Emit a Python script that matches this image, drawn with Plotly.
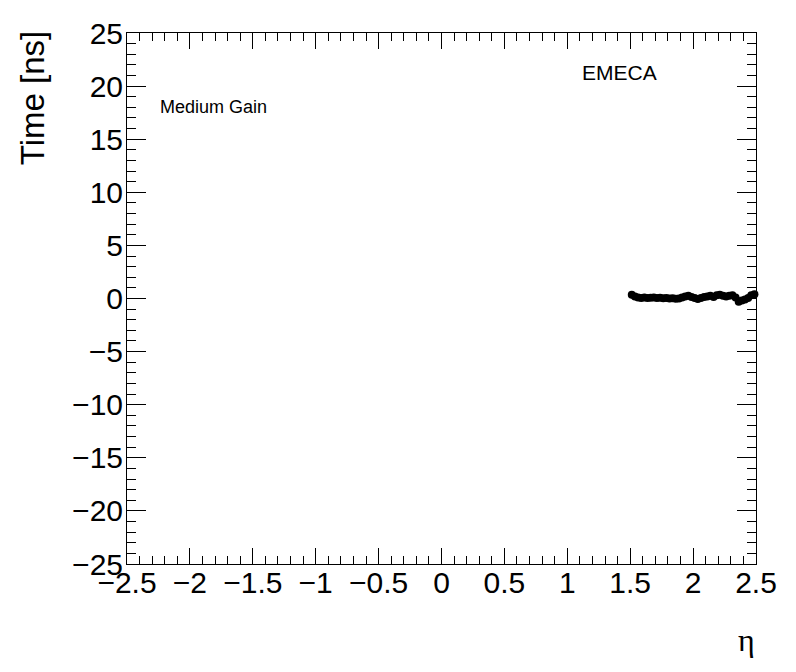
import plotly.graph_objects as go

# Data
eta = [1.5125 + 0.025 * i for i in range(40)]
time_ns = [0.35, 0.20, 0.10, 0.05, 0.10, 0.05, 0.08, 0.10, 0.05, 0.08,
           0.02, 0.05, 0.00, 0.03, -0.02, 0.00, 0.10, 0.20, 0.25, 0.15,
           0.05, -0.05, 0.05, 0.15, 0.20, 0.25, 0.15, 0.30, 0.35, 0.25,
           0.20, 0.25, 0.30, 0.10, -0.30, -0.20, -0.10, 0.05, 0.30, 0.40]

x_range = [-2.5, 2.5]
y_range = [-25, 25]

FONT = "Liberation Sans, Arial, Helvetica, sans-serif"

fig = go.Figure()
fig.add_trace(go.Scatter(
    x=eta, y=time_ns, mode="markers",
    marker=dict(symbol="circle", size=8, color="black"),
    showlegend=False, cliponaxis=False,
))

axis_common = dict(
    showgrid=False, zeroline=False, showline=True, linecolor="black", linewidth=1,
    mirror="ticks", ticks="inside", tickcolor="black", tickwidth=1,
    tickfont=dict(family=FONT, size=30, color="black"),
)

fig.update_xaxes(
    range=x_range, tick0=-2.5, dtick=0.5, ticklen=16,
    minor=dict(ticks="inside", dtick=0.1, ticklen=8, tickcolor="black", tickwidth=1),
    ticklabelstandoff=-8,
    **axis_common,
)
fig.update_yaxes(
    range=y_range, tick0=-25, dtick=5, ticklen=19,
    minor=dict(ticks="inside", dtick=1, ticklen=9, tickcolor="black", tickwidth=1),
    ticklabelstandoff=-3,
    **axis_common,
)

fig.add_annotation(text="Medium Gain", x=-2.255, y=18.0, xref="x", yref="y",
                   xanchor="left", yanchor="middle", showarrow=False,
                   font=dict(family=FONT, size=18, color="black"))
fig.add_annotation(text="EMECA", x=1.098, y=21.3, xref="x", yref="y",
                   xanchor="left", yanchor="middle", showarrow=False,
                   font=dict(family=FONT, size=21, color="black"))
fig.add_annotation(text="Time [ns]", x=-0.149, y=0.8776, xref="paper", yref="paper",
                   xanchor="center", yanchor="middle", textangle=-90, showarrow=False,
                   font=dict(family=FONT, size=33, color="black"))
fig.add_annotation(text="η", x=0.9855, y=-0.143, xref="paper", yref="paper",
                   xanchor="center", yanchor="middle", showarrow=False,
                   font=dict(family="Liberation Serif, Times New Roman, serif", size=32, color="black"))

fig.update_layout(
    width=788, height=664,
    margin=dict(l=119, r=40, t=25, b=108, autoexpand=False),
    paper_bgcolor="white", plot_bgcolor="white",
    font=dict(family=FONT, color="black"),
)

fig.write_html("out.html")
